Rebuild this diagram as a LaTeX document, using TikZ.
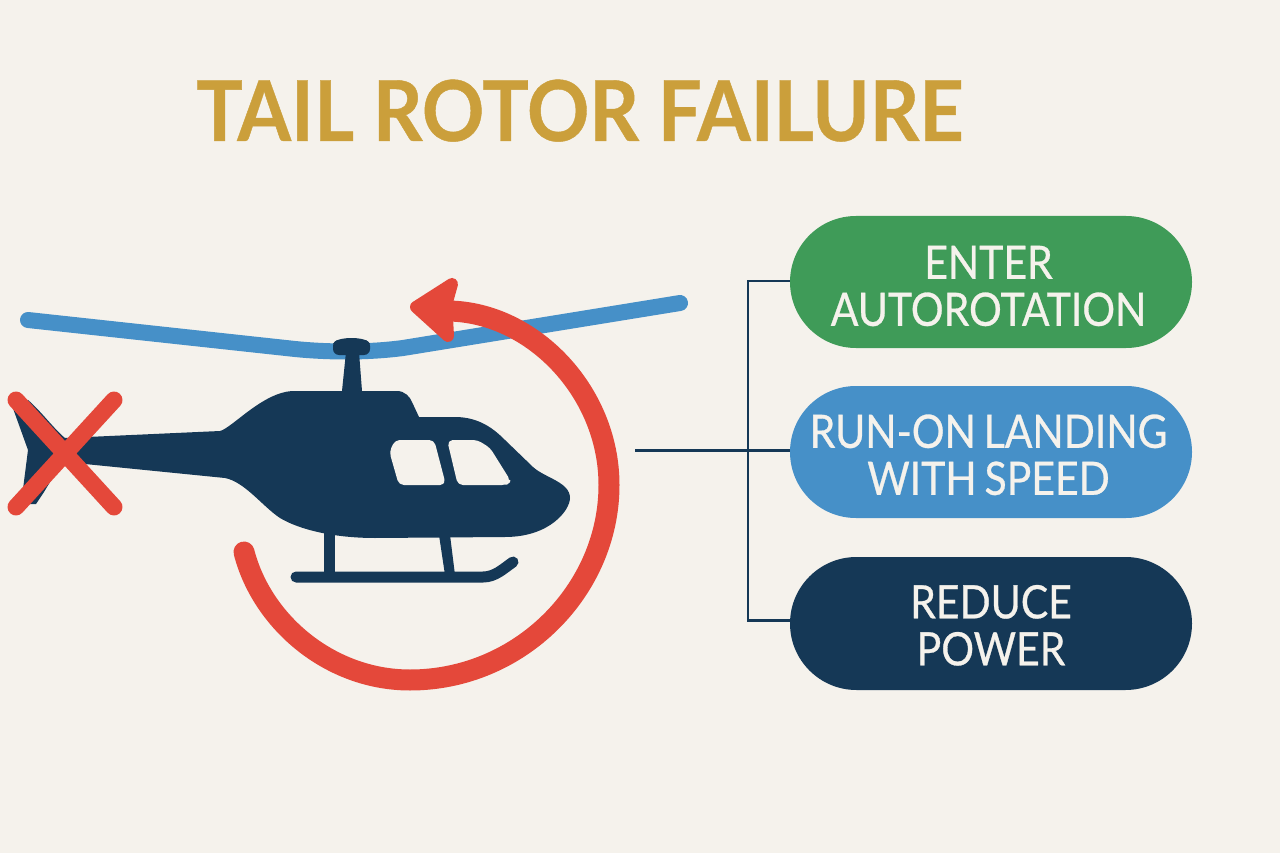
\documentclass[tikz,border=0pt]{standalone}
\usepackage{fontspec}
\setmainfont{Lato}[FakeBold=0.6,FakeStretch=0.89,WordSpace=0.75]
\newfontfamily\titlefont[FakeStretch=0.92,FakeBold=0.5]{Lato}
\newcommand{\nudge}{\hspace*{5pt}}
\definecolor{paper}{HTML}{F5F2EC}
\definecolor{navy}{HTML}{153856}
\definecolor{skyblue}{HTML}{4690C8}
\definecolor{leaf}{HTML}{3F9B58}
\definecolor{alert}{HTML}{E4483A}
\definecolor{gold}{HTML}{CB9F3B}
\usetikzlibrary{shapes.misc}
\tikzset{
  pill/.style={rounded rectangle, minimum width=402pt, inner sep=0pt, text=paper,
    align=center, font=\fontsize{46}{47}\selectfont},
  wire/.style={draw=navy, line width=2.4pt},
  blade/.style={draw=skyblue, line width=16pt, line cap=round, line join=round},
  cross/.style={draw=alert, line width=17pt, line cap=round},
  pane/.style={fill=paper, draw=paper, line width=3pt, line join=round},
  frame/.style={fill=navy},
  skid/.style={draw=navy, line width=11pt, line cap=round},
}
\begin{document}
\begin{tikzpicture}[x=1pt,y=-1pt]
\useasboundingbox (0,0) rectangle (1280,853);
\fill[paper] (0,0) rectangle (1280,853);

% Title
\node[text=gold, font=\titlefont\bfseries\fontsize{84}{84}\selectfont, anchor=base] (title) at (580,141) {TAIL ROTOR FAILURE};

% Main rotor blade
\draw[blade] (28,320) -- (295,349) .. controls (325,352) and (365,353) .. (403,348) -- (680,303);

% Fuselage with tail boom and fin
\fill[frame] (10,400) -- (28,400) .. controls (40,410) and (55,430) .. (65,438)
  -- (220,431) .. controls (232,428) and (262,393) .. (292,391)
  -- (342,391) -- (346,352) -- (359,352) -- (362,391)
  -- (397,391) .. controls (405,391) and (410,397) .. (412,402) -- (419,417)
  -- (455,417) .. controls (480,417) and (495,430) .. (505,440)
  -- (533,467) .. controls (545,478) and (570,482) .. (570,498)
  .. controls (570,510) and (550,537) .. (505,537)
  -- (375,538) .. controls (335,538) and (300,530) .. (280,518)
  .. controls (262,506) and (245,482) .. (225,478)
  -- (85,464) -- (62,462) -- (44,492) -- (36,504) -- (30,504) -- (22,497) -- (28,450) -- cycle;
% Rotor hub
\fill[frame, rounded corners=6pt] (333,355) -- (333,340) -- (370,340) -- (370,355) -- cycle;
\fill[frame] (333,344) .. controls (335,336) and (368,336) .. (370,344) -- cycle;

% Cabin windows
\draw[pane, rounded corners=4pt] (396,441.5) -- (433,441.5) -- (444,483.5) -- (400,483.5) -- (391,452) -- cycle;
\draw[pane, rounded corners=4pt] (449,441.5) -- (477,441.5) -- (489,449) -- (509,481) -- (506,483.5) -- (459,483.5) -- cycle;

% Landing gear
\fill[frame] (324,530) rectangle (335,575);
\fill[frame] (439,535) -- (450,535) -- (455,575) -- (445,575) -- cycle;
\draw[skid] (296,577) -- (483,577) .. controls (495,577) and (503,569) .. (513,562);

% Rotation arrow around the airframe
\draw[draw=alert, line width=21pt, line cap=round] (244,552) .. controls (262,622) and (330,680) .. (410,680)
  .. controls (520,680) and (609,590) .. (609,485)
  .. controls (609,390) and (530,310) .. (445,311);
\draw[fill=alert, draw=alert, line width=12pt, line join=round]
  (416,307) -- (452,284) -- (447,302) -- (447,318) -- (448,336) -- cycle;

% Failed tail rotor mark
\draw[cross] (16,400) -- (114,507);
\draw[cross] (114,400) -- (16,507);

% Action boxes; the invisible rule sets each label's height within its box
\node[pill, fill=leaf, minimum height=132pt] (enter) at (991,282) {\rule{0pt}{41pt}ENTER\nudge\\AUTOROTATION\nudge};
\node[pill, fill=skyblue, minimum height=132pt] (runon) at (991,452) {\rule{0pt}{39pt}RUN-ON LANDING\nudge\\WITH SPEED\nudge};
\node[pill, fill=navy, minimum height=133pt] (reduce) at (991,623.5) {\rule{0pt}{37pt}REDUCE\\POWER};

% Connectors
\coordinate (source) at (635,450.5);
\coordinate (hub) at (748,450.5);
\draw[wire] (source) -- (hub);
\draw[wire] (hub) -- (runon.west |- hub);
\draw[wire] ([yshift=1pt]enter.west) -| (hub);
\draw[wire] ([yshift=3pt]reduce.west) -| (hub);
\end{tikzpicture}
\end{document}
